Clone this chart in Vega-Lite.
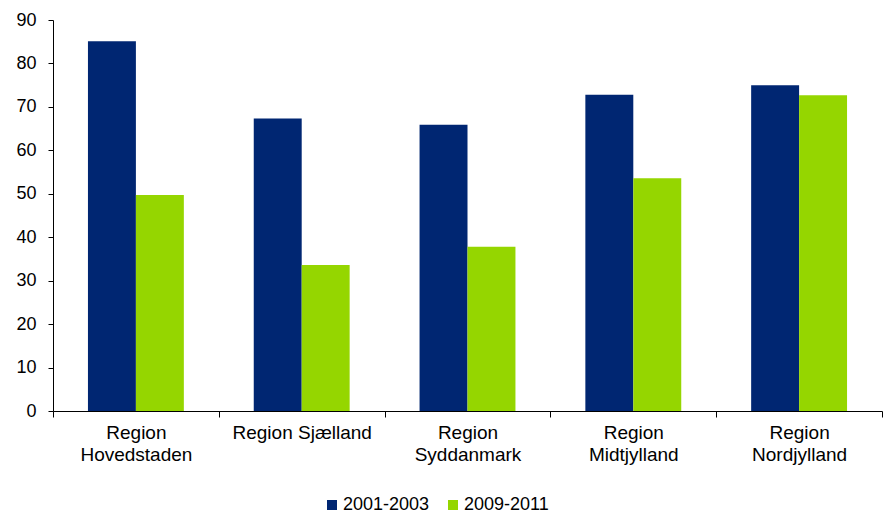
{
  "$schema": "https://vega.github.io/schema/vega-lite/v6.json",
  "width": 829,
  "height": 391,
  "autosize": {"type": "none"},
  "padding": {"left": 53, "top": 20, "right": 3, "bottom": 102},
  "background": "white",
  "config": {"view": {"stroke": null}, "font": "Liberation Sans"},
  "data": {
    "values": [
      {"region": "Region Hovedstaden", "period": "2001-2003", "value": 85.1},
      {"region": "Region Hovedstaden", "period": "2009-2011", "value": 49.7},
      {"region": "Region Sjælland", "period": "2001-2003", "value": 67.3},
      {"region": "Region Sjælland", "period": "2009-2011", "value": 33.6},
      {"region": "Region Syddanmark", "period": "2001-2003", "value": 65.9},
      {"region": "Region Syddanmark", "period": "2009-2011", "value": 37.8},
      {"region": "Region Midtjylland", "period": "2001-2003", "value": 72.8},
      {"region": "Region Midtjylland", "period": "2009-2011", "value": 53.6},
      {"region": "Region Nordjylland", "period": "2001-2003", "value": 75.0},
      {"region": "Region Nordjylland", "period": "2009-2011", "value": 72.7}
    ]
  },
  "mark": {"type": "bar"},
  "encoding": {
    "x": {
      "field": "region",
      "type": "nominal",
      "sort": ["Region Hovedstaden", "Region Sjælland", "Region Syddanmark", "Region Midtjylland", "Region Nordjylland"],
      "scale": {"paddingInner": 0, "paddingOuter": 0},
      "axis": {
        "title": null,
        "labelAngle": 0,
        "tickBand": "extent",
        "tickSize": 6,
        "tickColor": "black",
        "domainColor": "black",
        "labelColor": "black",
        "labelFontSize": 19,
        "labelPadding": 6,
        "labelLineHeight": 22,
        "labelBaseline": "top",
        "labelLimit": 0,
        "labelExpr": "datum.value == null ? '' : (datum.value == 'Region Sjælland' ? datum.value : split(datum.value, ' '))"
      }
    },
    "xOffset": {
      "field": "period",
      "type": "nominal",
      "sort": ["2001-2003", "2009-2011"],
      "scale": {"paddingInner": 0, "paddingOuter": 0.729}
    },
    "y": {
      "field": "value",
      "type": "quantitative",
      "scale": {"domain": [0, 90], "nice": false},
      "axis": {
        "title": null,
        "values": [0, 10, 20, 30, 40, 50, 60, 70, 80, 90],
        "grid": false,
        "tickSize": 5,
        "tickColor": "black",
        "domainColor": "black",
        "labelColor": "black",
        "labelFontSize": 18,
        "labelPadding": 12
      }
    },
    "color": {
      "field": "period",
      "type": "nominal",
      "scale": {"domain": ["2001-2003", "2009-2011"], "range": ["#002672", "#95d600"]},
      "legend": {
        "title": null,
        "orient": "none",
        "direction": "horizontal",
        "legendX": 270,
        "legendY": 476,
        "symbolType": "square",
        "symbolSize": 100,
        "symbolStrokeWidth": 0,
        "symbolOpacity": 1,
        "labelFontSize": 18,
        "labelColor": "black",
        "labelOffset": 2,
        "columnPadding": 14
      }
    }
  }
}
